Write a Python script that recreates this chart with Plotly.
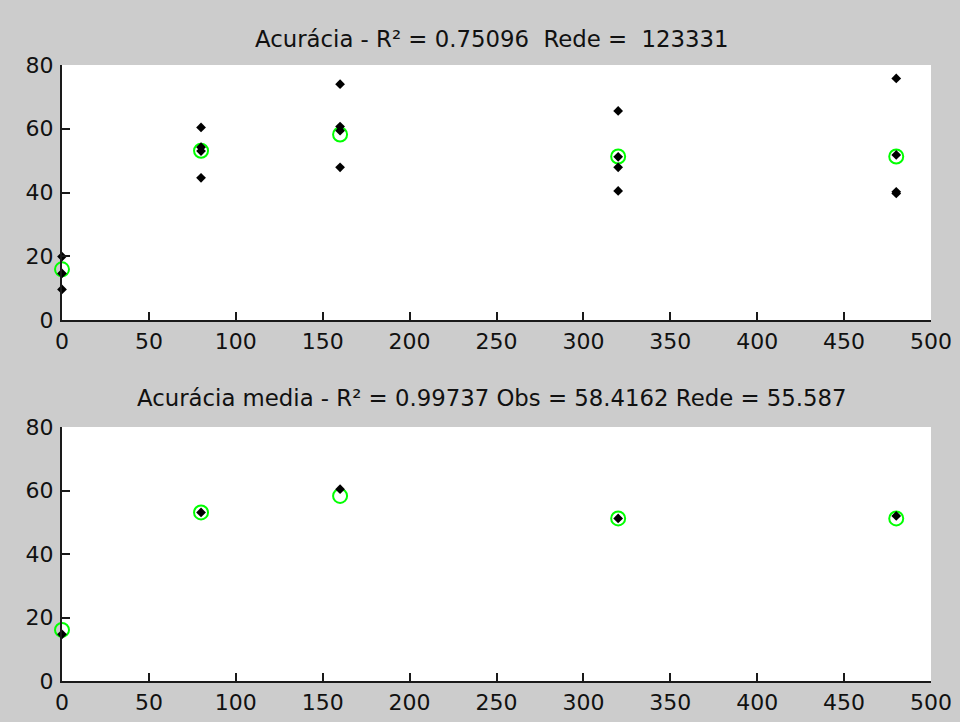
import plotly.graph_objects as go

# ---- data ----
x_levels = [0, 80, 160, 320, 480]
obs_x = [0, 0, 0,
         80, 80, 80, 80,
         160, 160, 160, 160,
         320, 320, 320, 320,
         480, 480, 480, 480]
obs_y = [19.9, 14.6, 9.6,
         60.4, 54.2, 53.0, 44.6,
         74.0, 60.7, 59.4, 47.9,
         65.6, 51.2, 47.9, 40.5,
         75.8, 51.8, 40.2, 39.7]
rede_top = [15.9, 53.1, 58.2, 51.3, 51.3]
obs_mean = [14.7, 53.1, 60.4, 51.2, 52.0]
rede_bottom = [16.1, 53.1, 58.3, 51.2, 51.2]

title_top = "Acurácia - R² = 0.75096  Rede =  123331"
title_bottom = "Acurácia media - R² = 0.99737 Obs = 58.4162 Rede = 55.587"
x_ticks = [0, 50, 100, 150, 200, 250, 300, 350, 400, 450, 500]
y_ticks = [0, 20, 40, 60, 80]

FONT = "DejaVu Sans"
FS = 22
FS_TITLE = 22.8
green = dict(symbol="circle-open", size=14, color="#00ff00", line=dict(color="#00ff00", width=2))
black = dict(symbol="diamond", size=7.5, color="black", line=dict(width=0))

fig = go.Figure()
fig.add_trace(go.Scatter(x=x_levels, y=rede_top, mode="markers", marker=green,
                         xaxis="x", yaxis="y", cliponaxis=False, showlegend=False))
fig.add_trace(go.Scatter(x=obs_x, y=obs_y, mode="markers", marker=black,
                         xaxis="x", yaxis="y", cliponaxis=False, showlegend=False))
fig.add_trace(go.Scatter(x=x_levels, y=rede_bottom, mode="markers", marker=green,
                         xaxis="x2", yaxis="y2", cliponaxis=False, showlegend=False))
fig.add_trace(go.Scatter(x=x_levels, y=obs_mean, mode="markers", marker=black,
                         xaxis="x2", yaxis="y2", cliponaxis=False, showlegend=False))

W, H = 960, 722
xd = [62 / W, 931 / W]
y1 = [1 - 320 / H, 1 - 65 / H]
y2 = [1 - 681 / H, 1 - 427 / H]
title_x = 492 / W

axcommon = dict(showgrid=False, zeroline=False, showline=True, linecolor="#1a1a1a",
                linewidth=2, ticks="inside", ticklen=8, tickwidth=1.5, tickcolor="#1a1a1a",
                tickfont=dict(family=FONT, size=FS, color="#111111"), mirror=False,
                automargin=False)

fig.update_layout(
    width=W, height=H,
    margin=dict(l=0, r=0, t=0, b=0, pad=0, autoexpand=False),
    paper_bgcolor="#cccccc", plot_bgcolor="white",
    xaxis=dict(domain=xd, range=[0, 500], tickvals=x_ticks, anchor="y",
               ticklabelstandoff=1, **axcommon),
    yaxis=dict(domain=y1, range=[0, 80], tickvals=y_ticks, anchor="x",
               ticklabelstandoff=2, **axcommon),
    xaxis2=dict(domain=xd, range=[0, 500], tickvals=x_ticks, anchor="y2",
                ticklabelstandoff=1, **axcommon),
    yaxis2=dict(domain=y2, range=[0, 80], tickvals=y_ticks, anchor="x2",
                ticklabelstandoff=2, **axcommon),
    annotations=[
        dict(text=title_top, x=title_x, y=1 - 39 / H, xref="paper", yref="paper",
             showarrow=False, xanchor="center", yanchor="middle",
             font=dict(family=FONT, size=FS_TITLE, color="#111111")),
        dict(text=title_bottom, x=title_x, y=1 - 398 / H, xref="paper", yref="paper",
             showarrow=False, xanchor="center", yanchor="middle",
             font=dict(family=FONT, size=FS_TITLE, color="#111111")),
    ],
)

post = ("document.body.style.margin='0';document.body.style.padding='0';"
        "document.body.style.overflow='hidden';"
        "document.documentElement.style.overflow='hidden';"
        "document.body.style.background='#cccccc';")
fig.write_html("out.html", post_script=post, config={"displayModeBar": False})
